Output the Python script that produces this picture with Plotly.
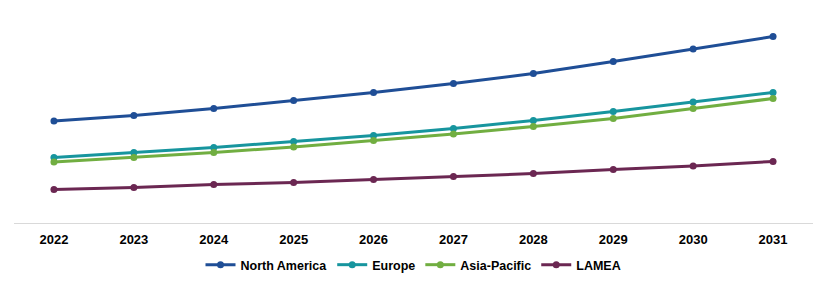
import plotly.graph_objects as go

years = ["2022", "2023", "2024", "2025", "2026", "2027", "2028", "2029", "2030", "2031"]
north_america = [102, 107.5, 114.5, 122.5, 130.5, 139.5, 149.5, 161.5, 174, 186.5]
europe = [65.5, 70.5, 75.5, 81.5, 87.5, 94.5, 102.5, 111.5, 121, 130.5]
asia_pacific = [61, 65.5, 70.5, 76, 82.5, 89, 96.5, 104.5, 114.5, 124.5]
lamea = [33.5, 35.5, 38.5, 40.5, 43.5, 46.5, 49.5, 53.5, 57, 61.5]

series = [
    ("North America", north_america, "#1f4e96"),
    ("Europe", europe, "#17959e"),
    ("Asia-Pacific", asia_pacific, "#71ae41"),
    ("LAMEA", lamea, "#6b2752"),
]

fig = go.Figure()
for name, vals, color in series:
    fig.add_trace(go.Scatter(
        x=years, y=vals, name=name, mode="lines+markers",
        line=dict(color=color, width=3),
        marker=dict(color=color, size=7),
    ))

fig.update_layout(
    width=827, height=285,
    margin=dict(l=14, r=14, t=20, b=62, autoexpand=False),
    paper_bgcolor="white", plot_bgcolor="white",
    font=dict(family="Liberation Sans", size=12, color="#111111"),
    showlegend=True,
    legend=dict(orientation="h", x=0.5, xanchor="center",
                yref="container", y=0.07, yanchor="middle",
                font=dict(size=12.5, family="Liberation Sans", color="#000000", weight="bold"),
                itemwidth=30, tracegroupgap=0),
    xaxis=dict(type="category", range=[-0.5, 9.5], showgrid=False, zeroline=False,
               showline=True, linecolor="#d9d9d9", linewidth=1,
               ticks="outside", ticklen=4, tickcolor="rgba(0,0,0,0)",
               automargin=False,
               tickfont=dict(size=13, family="Liberation Sans", color="#000000", weight="bold")),
    yaxis=dict(range=[0, 203], visible=False, showgrid=False, zeroline=False, automargin=False),
)

fig.write_html("out.html")
